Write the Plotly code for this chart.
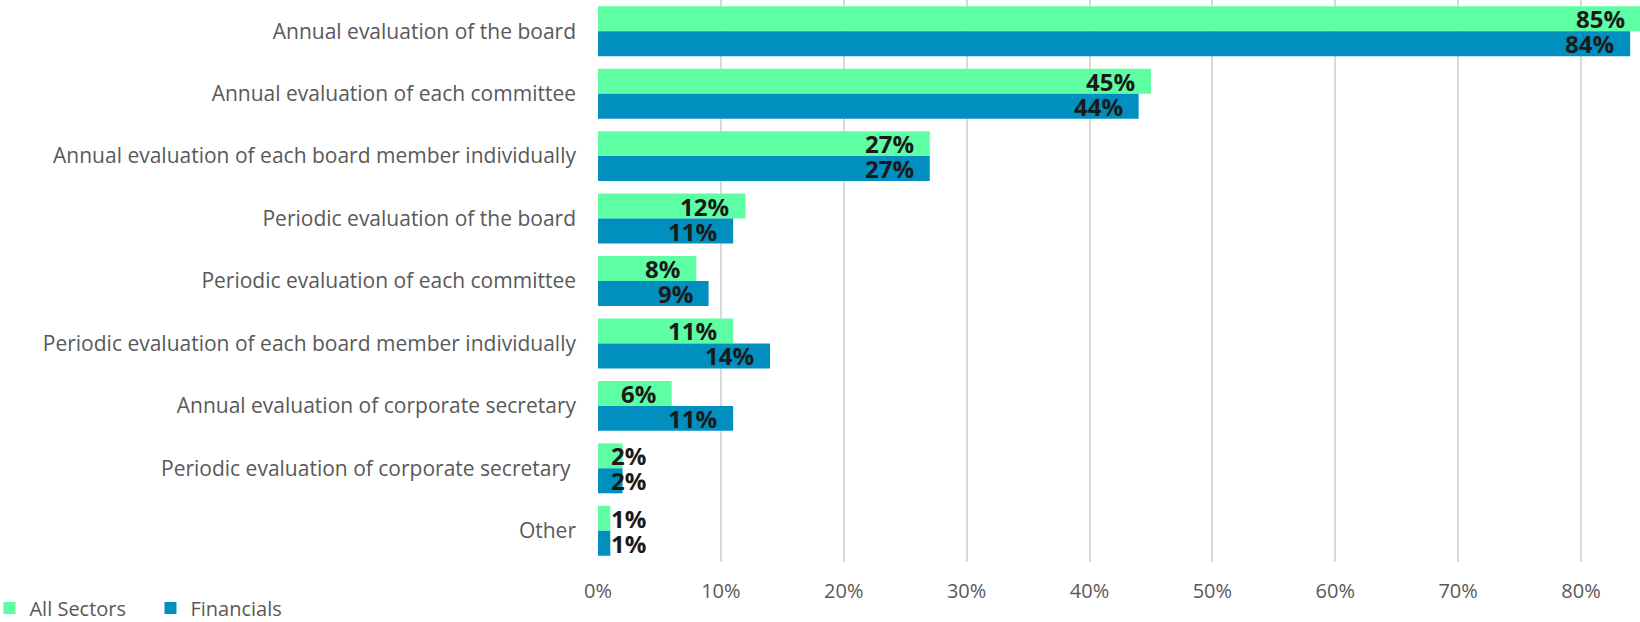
import plotly.graph_objects as go

categories = [
    "Annual evaluation of the board",
    "Annual evaluation of each committee",
    "Annual evaluation of each board member individually",
    "Periodic evaluation of the board",
    "Periodic evaluation of each committee",
    "Periodic evaluation of each board member individually",
    "Annual evaluation of corporate secretary",
    "Periodic evaluation of corporate secretary ",
    "Other",
]
all_sectors = [0.85, 0.45, 0.27, 0.12, 0.08, 0.11, 0.06, 0.02, 0.01]
financials = [0.84, 0.44, 0.27, 0.11, 0.09, 0.14, 0.11, 0.02, 0.01]
x_ticks = [0, 0.1, 0.2, 0.3, 0.4, 0.5, 0.6, 0.7, 0.8]

GREEN = "#5EFFA4"
BLUE = "#008FBE"
LABEL_FONT = "Open Sans"
X_MAX = 0.848

pos = list(range(len(categories)))

fig = go.Figure()
fig.add_trace(go.Bar(name="All Sectors", y=pos, x=all_sectors, orientation="h",
                     marker=dict(color=GREEN, line=dict(width=0))))
fig.add_trace(go.Bar(name="Financials", y=pos, x=financials, orientation="h",
                     marker=dict(color=BLUE, line=dict(width=0))))

# value labels, right-aligned just inside the bar end
# (kept clear of the axis for tiny bars and inside the plot for the longest one)
annotations = []
for series, off in ((all_sectors, -0.2), (financials, 0.2)):
    for i, v in enumerate(series):
        annotations.append(dict(
            x=min(max(v, 0.052), X_MAX - 0.0005), y=i + off, xref="x", yref="y",
            text=f"<b>{round(v * 100)}%</b>", showarrow=False,
            xanchor="right", yanchor="middle", xshift=-12 if v > X_MAX else -14,
            font=dict(family=LABEL_FONT, size=24, color="#1a1a1a"),
        ))

fig.update_layout(
    width=1640, height=622,
    margin=dict(l=598, r=0, t=0, b=60, autoexpand=False),
    paper_bgcolor="white", plot_bgcolor="white",
    barmode="group", bargap=0.2, bargroupgap=0,
    annotations=annotations,
    showlegend=True,
    legend=dict(orientation="h", xref="paper", yref="paper",
                x=-0.584, y=-0.082, xanchor="left", yanchor="middle",
                font=dict(family=LABEL_FONT, size=20, color="#595959"),
                itemwidth=30, entrywidth=116, traceorder="normal"),
    xaxis=dict(range=[0, X_MAX], tickvals=x_ticks, tickformat=".0%",
               showgrid=True, gridcolor="#d9d9d9", gridwidth=2,
               zeroline=False, showline=False, ticks="",
               ticklabelstandoff=15, automargin=False,
               tickfont=dict(family=LABEL_FONT, size=20, color="#595959")),
    yaxis=dict(tickvals=pos, ticktext=categories, range=[8.5, -0.5],
               showgrid=False, zeroline=False, showline=False, ticks="",
               ticklabelstandoff=21, automargin=False,
               tickfont=dict(family=LABEL_FONT, size=21, color="#595959")),
)

fig.write_html("out.html")
